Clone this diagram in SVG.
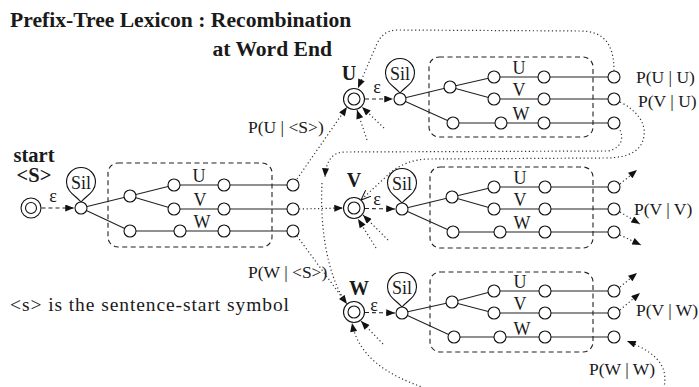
<svg xmlns="http://www.w3.org/2000/svg" width="699" height="387" viewBox="0 0 699 387">
<style>
text{font-family:"Liberation Serif","Times New Roman",serif;fill:#1a1a1a}
.b{font-weight:bold}
.t{font-size:17.5px}
.lbl{font-size:18px;text-anchor:middle}
.n{fill:#fff;stroke:#111;stroke-width:1.1}
.e{stroke:#222;stroke-width:1.1;fill:none}
.box{fill:none;stroke:#222;stroke-width:1.1;stroke-dasharray:5 3.5}
.eps{stroke:#222;stroke-width:1.1;stroke-dasharray:4 3;marker-end:url(#arr)}
.dot{fill:none;stroke:#333;stroke-width:1.2;stroke-dasharray:1.2 2.6}
.da{marker-end:url(#arr)}
.sil{fill:#fff;stroke:#111;stroke-width:1.1}
</style>
<defs>
<marker id="arr" viewBox="0 0 10 8" refX="10" refY="4" markerWidth="10" markerHeight="7" markerUnits="userSpaceOnUse" orient="auto"><path d="M0,0 L10,4 L0,8 z" fill="#111" stroke="none"/></marker>
<marker id="open" viewBox="0 0 10 8" refX="10" refY="4" markerWidth="10" markerHeight="8" markerUnits="userSpaceOnUse" orient="auto"><path d="M0,0 L10,4 L0,8" fill="none" stroke="#111" stroke-width="1"/></marker>
</defs>

<text class="b" x="10" y="27" font-size="21.6">Prefix-Tree Lexicon : Recombination</text>
<text class="b" x="332" y="56" font-size="21.6" text-anchor="end">at Word End</text>
<text x="10" y="311" font-size="19.5" textLength="279" lengthAdjust="spacing">&lt;s&gt; is the sentence-start symbol</text>

<g id="tree-start">
<text class="b" x="34" y="162" font-size="20.5" text-anchor="middle">start</text>
<text class="b" x="34" y="182" font-size="20.5" text-anchor="middle">&lt;S&gt;</text>
<rect class="box" x="108" y="163" width="164" height="84" rx="10"/>
<path class="e" d="M81,208 L130,196 M81,208 L130,231 M130,196 L174,185 M130,196 L174,209 M174,185 L293,185 M174,209 L293,209 M130,231 L293,231"/>
<path class="eps" d="M41.5,208 L74,208"/>
<text class="lbl" x="53" y="202">ε</text>
<circle class="n" cx="31" cy="208" r="10"/><circle class="n" cx="31" cy="208" r="5.5"/>
<path class="sil" d="M81,202 C76,196 66.5,192 66.5,182 A14.5 14.5 0 1 1 95.5,182 C95.5,192 86,196 81,202 Z"/>
<text class="lbl" x="81" y="189" font-size="17">Sil</text>
<circle class="n" cx="81" cy="208" r="6"/>
<circle class="n" cx="130" cy="196" r="6"/>
<circle class="n" cx="174" cy="185" r="6"/><circle class="n" cx="224" cy="185" r="6"/><circle class="n" cx="293" cy="185" r="6"/>
<circle class="n" cx="174" cy="209" r="6"/><circle class="n" cx="224" cy="209" r="6"/><circle class="n" cx="293" cy="209" r="6"/>
<circle class="n" cx="130" cy="231" r="6"/><circle class="n" cx="180" cy="231" r="6"/><circle class="n" cx="224" cy="231" r="6"/><circle class="n" cx="293" cy="231" r="6"/>
<text class="lbl" x="199" y="182">U</text><text class="lbl" x="200" y="206">V</text><text class="lbl" x="202" y="228">W</text>
</g>

<g id="tree-U">
<text class="b" x="349" y="80" font-size="20" text-anchor="middle">U</text>
<rect class="box" x="429" y="57" width="164" height="80" rx="10"/>
<path class="e" d="M400,99 L450,87 M400,99 L453,123 M450,87 L494,77 M450,87 L494,99 M494,77 L614,77 M494,99 L614,99 M453,123 L614,123"/>
<path class="eps" d="M365,99 L393,99"/>
<text class="lbl" x="377" y="93">ε</text>
<circle class="n" cx="354" cy="99" r="10.5"/><circle class="n" cx="354" cy="99" r="6"/>
<path class="sil" d="M400,93 C395,87 385.5,83 385.5,73 A14.5 14.5 0 1 1 414.5,73 C414.5,83 405,87 400,93 Z"/>
<text class="lbl" x="400" y="80" font-size="17">Sil</text>
<circle class="n" cx="400" cy="99" r="6"/>
<circle class="n" cx="450" cy="87" r="6"/>
<circle class="n" cx="494" cy="77" r="6"/><circle class="n" cx="544" cy="77" r="6"/><circle class="n" cx="614" cy="77" r="6"/>
<circle class="n" cx="494" cy="99" r="6"/><circle class="n" cx="544" cy="99" r="6"/><circle class="n" cx="614" cy="99" r="6"/>
<circle class="n" cx="453" cy="123" r="6"/><circle class="n" cx="501" cy="123" r="6"/><circle class="n" cx="544" cy="123" r="6"/><circle class="n" cx="614" cy="123" r="6"/>
<text class="lbl" x="519" y="74">U</text><text class="lbl" x="519" y="96">V</text><text class="lbl" x="521" y="120">W</text>
<text class="t" x="636" y="83">P(U | U)</text>
<text class="t" x="638" y="107">P(V | U)</text>
</g>

<g id="tree-V">
<text class="b" x="354" y="187" font-size="20" text-anchor="middle">V</text>
<rect class="box" x="430" y="167" width="163" height="81" rx="10"/>
<path class="e" d="M402,209 L452,197 M402,209 L453,232 M452,197 L494,187 M452,197 L494,209 M494,187 L614,187 M494,209 L614,209 M453,232 L614,232"/>
<path class="eps" d="M365,208.5 L395,209"/>
<text class="lbl" x="377" y="205">ε</text>
<circle class="n" cx="354" cy="208" r="10.5"/><circle class="n" cx="354" cy="208" r="6"/>
<path class="sil" d="M402,203 C397,197 387.5,193 387.5,183 A14.5 14.5 0 1 1 416.5,183 C416.5,193 407,197 402,203 Z"/>
<text class="lbl" x="402" y="190" font-size="17">Sil</text>
<circle class="n" cx="402" cy="209" r="6"/>
<circle class="n" cx="452" cy="197" r="6"/>
<circle class="n" cx="494" cy="187" r="6"/><circle class="n" cx="545" cy="187" r="6"/><circle class="n" cx="614" cy="187" r="6"/>
<circle class="n" cx="494" cy="209" r="6"/><circle class="n" cx="545" cy="209" r="6"/><circle class="n" cx="614" cy="209" r="6"/>
<circle class="n" cx="453" cy="232" r="6"/><circle class="n" cx="500" cy="232" r="6"/><circle class="n" cx="545" cy="232" r="6"/><circle class="n" cx="614" cy="232" r="6"/>
<text class="lbl" x="520" y="184">U</text><text class="lbl" x="520" y="206">V</text><text class="lbl" x="522" y="229">W</text>
<text class="t" x="634" y="215">P(V | V)</text>
</g>

<g id="tree-W">
<text class="b" x="359" y="295" font-size="20" text-anchor="middle">W</text>
<rect class="box" x="430" y="272" width="163" height="80" rx="10"/>
<path class="e" d="M402,313 L452,302 M402,313 L454,337 M452,302 L494,291 M452,302 L494,313 M494,291 L614,291 M494,313 L614,313 M454,337 L614,337"/>
<path class="eps" d="M365,312.5 L395,313"/>
<text class="lbl" x="374" y="311">ε</text>
<circle class="n" cx="354" cy="312" r="10.5"/><circle class="n" cx="354" cy="312" r="6"/>
<path class="sil" d="M402,307 C397,301 387.5,297 387.5,287 A14.5 14.5 0 1 1 416.5,287 C416.5,297 407,301 402,307 Z"/>
<text class="lbl" x="402" y="294" font-size="17">Sil</text>
<circle class="n" cx="402" cy="313" r="6"/>
<circle class="n" cx="452" cy="302" r="6"/>
<circle class="n" cx="494" cy="291" r="6"/><circle class="n" cx="545" cy="291" r="6"/><circle class="n" cx="614" cy="291" r="6"/>
<circle class="n" cx="494" cy="313" r="6"/><circle class="n" cx="545" cy="313" r="6"/><circle class="n" cx="614" cy="313" r="6"/>
<circle class="n" cx="454" cy="337" r="6"/><circle class="n" cx="500" cy="337" r="6"/><circle class="n" cx="545" cy="337" r="6"/><circle class="n" cx="614" cy="337" r="6"/>
<text class="lbl" x="520" y="288">U</text><text class="lbl" x="520" y="310">V</text><text class="lbl" x="522" y="335">W</text>
<text class="t" x="636" y="316">P(V | W)</text>
<text class="t" x="589" y="375">P(W | W)</text>
</g>

<g id="connectors">
<text class="t" x="248" y="133">P(U | &lt;S&gt;)</text>
<text class="t" x="248" y="278">P(W | &lt;S&gt;)</text>
<path class="dot da" d="M297,179 L347,107"/>
<path class="dot da" d="M299,209 L343,208"/>
<path class="dot da" d="M297,236 L347,304"/>
<path class="dot da" d="M614,71 C614,44 604,31 580,31 L398,30 C386,30 380,36 376,46 L358,88"/>
<path class="dot" d="M620,102 C636,110 646,122 644,136 C642,150 630,158 605,158 L430,159 C412,159 400,165 390,173 L361,200" marker-end="url(#open)"/>
<path class="dot da" d="M618,127 C624,134 624,148 608,151 L345,152 C333,152 326,160 325,177"/>
<path class="dot" d="M322,183 C320,225 326,270 344,300"/>
<path class="dot da" d="M367,140 L357,110"/>
<path class="dot da" d="M384,128 L362,107"/>
<path class="dot da" d="M376,248 L358,219"/>
<path class="dot da" d="M388,240 L363,215"/>
<path class="dot da" d="M428,389 C385,375 358,355 352,323"/>
<path class="dot da" d="M383,344 L361,321"/>
<path class="dot da" d="M620,184 L637,170"/>
<path class="dot da" d="M620,212 L640,224"/>
<path class="dot da" d="M620,235 L641,245"/>
<path class="dot da" d="M620,287 L637,273"/>
<path class="dot da" d="M620,310 L640,293"/>
<path class="dot da" d="M663,392 C668,372 665,356 627,341"/>
</g>
</svg>
